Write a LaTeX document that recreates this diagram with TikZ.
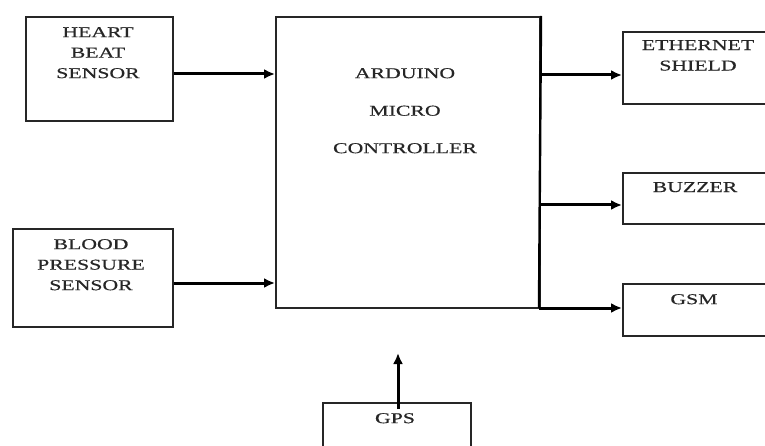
\documentclass[tikz,border=0pt]{standalone}
\usepackage{fontspec}
\setmainfont{Liberation Serif}[FakeStretch=1.45,FakeBold=0.6]
\usetikzlibrary{arrows.meta}
\begin{document}
\begin{tikzpicture}[x=1pt,y=-1pt,
  blk/.style={draw=black!85, line width=2pt, inner sep=0pt, anchor=north west},
  lbl/.style={font=\fontsize{15}{20.5}\selectfont, align=center, inner sep=0pt, anchor=north, text=black!85},
  conn/.style={line width=3pt, -{Latex[length=11pt,width=10pt]}},
  wire/.style={line width=2.4pt}]
\useasboundingbox (0,0) rectangle (765,446);
% boxes
\node[blk, minimum width=147pt, minimum height=104pt] (hb) at (25,16) {};
\node[blk, minimum width=160pt, minimum height=98pt] (bp) at (12,228) {};
\node[blk, minimum width=264pt, minimum height=291pt] (ard) at (275,16) {};
\node[blk, minimum width=150pt, minimum height=72pt] (eth) at (622,31) {};
\node[blk, minimum width=150pt, minimum height=51pt] (buz) at (622,172) {};
\node[blk, minimum width=150pt, minimum height=52pt] (gsm) at (622,283) {};
\node[blk, minimum width=148pt, minimum height=60pt] (gps) at (322,402) {};
% labels
\node[lbl] (hbt) at (98,27) {HEART\\BEAT\\SENSOR};
\node[lbl] (bpt) at (91,239) {BLOOD\\PRESSURE\\SENSOR};
\node[lbl, font=\fontsize{15}{37.5}\selectfont] (ardt) at (405,68) {ARDUINO\\MICRO\\CONTROLLER};
\node[lbl] (etht) at (698,40) {ETHERNET\\SHIELD};
\node[lbl] (buzt) at (695,182) {BUZZER};
\node[lbl] (gsmt) at (694,294) {GSM};
\node[lbl] (gpst) at (395,413) {GPS};
% connectors
\coordinate (bus) at (539,308);
\draw[conn] (hb.east |- 0,74) -- (ard.west |- 0,74);
\draw[conn] (bp.east |- 0,283) -- (ard.west |- 0,283);
\draw[wire] (ard.north east) -- (bus);
\draw[conn] (ard.east |- 0,75) -- (eth.west |- 0,75);
\draw[conn] (ard.east |- 0,205) -- (buz.west |- 0,205);
\draw[conn] (bus) -- (gsm.west |- 0,308);
\draw[conn] ([yshift=-7pt]gps.north -| 398,0) -- (398,353);
\end{tikzpicture}
\end{document}
